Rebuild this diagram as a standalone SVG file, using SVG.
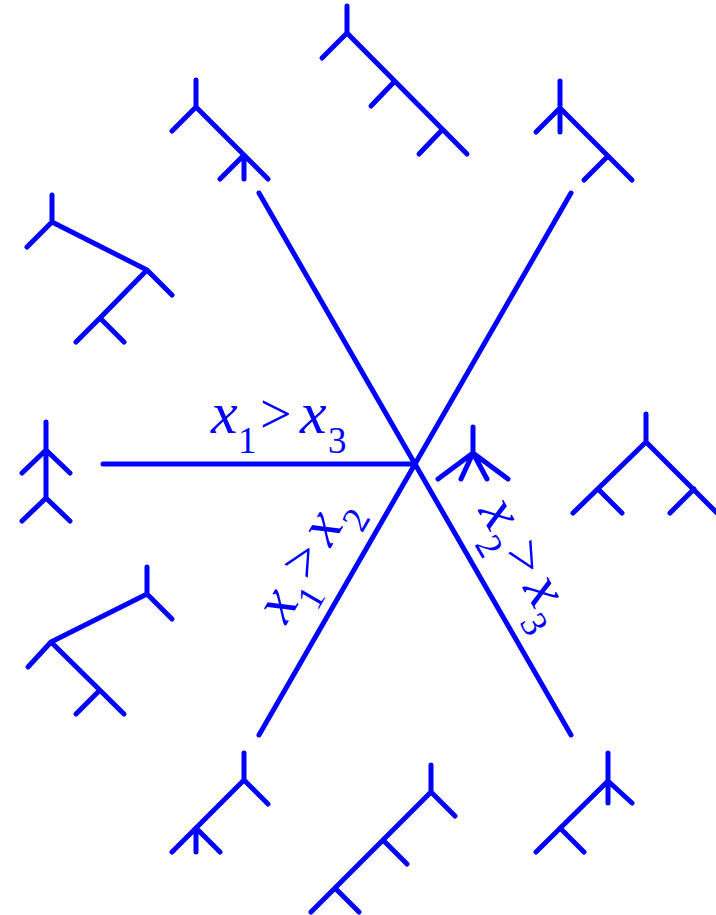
<svg xmlns="http://www.w3.org/2000/svg" width="716" height="915" viewBox="0 0 716 915">
<style>
.t{fill:none;stroke:#0000ff;stroke-width:5;stroke-linecap:round;stroke-linejoin:round}
.c{fill:none;stroke:#0000ff;stroke-width:5;stroke-linecap:round}
.lbl{font-family:"Liberation Serif","Times New Roman",serif;font-size:60px;fill:#0000ff}
.v{font-style:italic}
.s{font-size:37px}
.g{font-size:56px}
</style>
<rect width="716" height="915" fill="#ffffff"/>
<g id="connectors">
<line class="c" x1="415" y1="464" x2="103" y2="464"/>
<line class="c" x1="415" y1="464" x2="259" y2="193"/>
<line class="c" x1="415" y1="464" x2="571" y2="193"/>
<line class="c" x1="415" y1="464" x2="259" y2="735"/>
<line class="c" x1="415" y1="464" x2="571" y2="735"/>
</g>
<g id="tree-top"><path class="t" d="M347,6 V33 M322,58 L347,33 L467,154 M371,106 L394,82 M419,154 L442,130"/></g>
<g id="tree-top-left"><path class="t" d="M196,80 V107 M172,131 L196,107 L268,179 M220,179 L244,155 V179"/></g>
<g id="tree-top-right"><path class="t" d="M560,81 V132 M536,132 L560,108 L632,180 M584,180 L608,156"/></g>
<g id="tree-left-upper"><path class="t" d="M52,195 V222 M27,247 L52,222 L147,270 L172,295 M147,270 L100,318 M76,342 L100,318 L124,342"/></g>
<g id="tree-left"><path class="t" d="M46,422 V498 M22,473 L46,450 L70,473 M22,521 L46,498 L70,521"/></g>
<g id="tree-center"><path class="t" d="M473,427 V453 M438,479 L473,453 L508,479 M461,479 L473,453 L487,479"/></g>
<g id="tree-right"><path class="t" d="M646,414 V442 M573,513 L646,442 L718,514 M598,489 L622,513 M694,489 L670,513"/></g>
<g id="tree-left-lower"><path class="t" d="M147,567 V594 L172,619 M147,594 L51,642 L28,667 M51,642 L124,714 M76,714 L99,691"/></g>
<g id="tree-bottom-left"><path class="t" d="M244,753 V780 L268,804 M244,780 L172,852 M196,828 V852 M196,828 L220,852"/></g>
<g id="tree-bottom"><path class="t" d="M431,765 V792 L455,816 M431,792 L311,912 M383,840 L407,864 M335,888 L359,912"/></g>
<g id="tree-bottom-right"><path class="t" d="M608,753 V803 M632,803 L608,781 L536,852 M560,828 L584,852"/></g>
<g id="labels">
<text class="lbl" transform="translate(415,464)"><tspan class="v" x="-204" y="-31">x</tspan><tspan class="s" x="-177" y="-11">1</tspan><tspan class="g" x="-155" y="-31">&gt;</tspan><tspan class="v" x="-115" y="-31">x</tspan><tspan class="s" x="-87" y="-11">3</tspan></text>
<text class="lbl" transform="translate(415,464) rotate(-60)"><tspan class="v" x="-204" y="-31">x</tspan><tspan class="s" x="-177" y="-11">1</tspan><tspan class="g" x="-155" y="-31">&gt;</tspan><tspan class="v" x="-115" y="-31">x</tspan><tspan class="s" x="-87" y="-11">2</tspan></text>
<text class="lbl" transform="translate(415,464) rotate(60)"><tspan class="v" x="72" y="-31">x</tspan><tspan class="s" x="99" y="-11">2</tspan><tspan class="g" x="121" y="-31">&gt;</tspan><tspan class="v" x="161" y="-31">x</tspan><tspan class="s" x="189" y="-11">3</tspan></text>
</g>
</svg>
